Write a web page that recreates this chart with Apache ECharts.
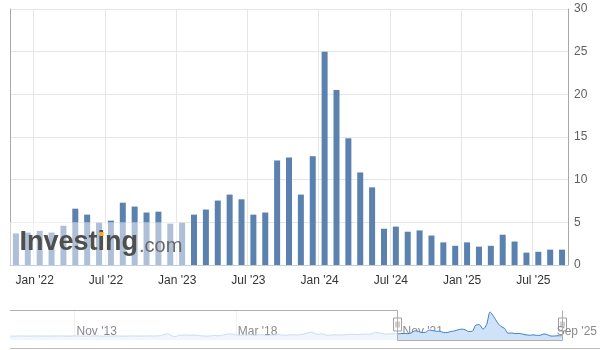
<!DOCTYPE html>
<html><head><meta charset="utf-8">
<script src="https://cdn.jsdelivr.net/npm/echarts@6/dist/echarts.min.js"></script>
<style>html,body{margin:0;padding:0;background:#fff}#c{width:600px;height:350px}</style>
</head><body><div id="c"></div>
<script>
const months = ["Nov '21","Dec '21","Jan '22","Feb '22","Mar '22","Apr '22","May '22","Jun '22","Jul '22","Aug '22","Sep '22","Oct '22","Nov '22","Dec '22",
  "Jan '23","Feb '23","Mar '23","Apr '23","May '23","Jun '23","Jul '23","Aug '23","Sep '23","Oct '23","Nov '23","Dec '23",
  "Jan '24","Feb '24","Mar '24","Apr '24","May '24","Jun '24","Jul '24","Aug '24","Sep '24","Oct '24","Nov '24","Dec '24",
  "Jan '25","Feb '25","Mar '25","Apr '25","May '25","Jun '25","Jul '25","Aug '25","Sep '25"];
const values = [3.7,3.8,4.0,3.8,4.6,6.6,5.9,4.95,5.2,7.3,6.85,6.15,6.25,4.85,
  4.95,5.9,6.5,7.55,8.25,7.7,5.9,6.15,12.25,12.6,8.25,12.75,
  25.0,20.5,14.85,10.85,9.1,4.25,4.5,3.9,4.05,3.45,2.65,2.25,
  2.65,2.15,2.25,3.55,2.75,1.45,1.55,1.8,1.8];
const yTicks = [0,5,10,15,20,25,30];
// navigator: earlier history (estimated from the faint line)
const navHistory = [1.5,1.4,1.5,1.6,1.5,1.4,1.5,1.5,1.6,1.5,1.4,1.5,1.5,1.6,1.5,1.5,1.4,1.5,1.6,1.5,
  1.5,1.4,1.5,1.5,1.6,1.5,1.4,1.5,1.5,1.6,1.5,1.5,1.4,1.5,1.6,1.5,1.5,1.4,1.5,1.6,1.5,1.6,
  1.8,3.0,3.8,2.0,0.8,2.0,2.3,2.5,2.2,2.4,2.3,
  1.8,1.5,1.4,1.6,2.0,1.7,2.2,2.8,3.6,3.5,2.6,
  2.4,2.6,2.4,2.7,2.3,2.5,2.8,2.4,2.2,2.5,2.6,2.9,2.4,2.3,2.6,2.7,2.5,3.0,
  3.4,4.5,5.3,4.2,3.0,3.8,2.6,2.2,2.5,2.7,2.4,2.6,2.9,3.2,3.0,2.8,3.1,3.3,3.4,3.6,5.0,4.6,3.8,3.4,3.6,3.9];
const navTickIndex = [18, 63, 109, 152];
const navTickLabels = ["Nov '13","Mar '18","Nov '21","Sep '25"];

const FONT = "'Liberation Sans', Arial, sans-serif";
const H = navHistory.length;
const navCats = Array.from({length: H + values.length}, (_, i) => String(i));
const navFaint = navHistory.concat([values[0]]).concat(new Array(values.length - 1).fill(null));
const navSel = new Array(H).fill(null).concat(values);
const isHalf = v => v.startsWith('Jan') || v.startsWith('Jul');

const chart = echarts.init(document.getElementById('c'), null, {renderer: 'canvas'});
chart.setOption({
  animation: false,
  backgroundColor: '#ffffff',
  textStyle: {fontFamily: FONT},
  grid: [
    {left: 10, right: 32, top: 9, height: 256},
    {left: 10, right: 33, top: 310, height: 30}
  ],
  xAxis: [{
    type: 'category', gridIndex: 0, data: months, boundaryGap: true,
    axisLine: {show: true, lineStyle: {color: '#c0d0e0'}},
    axisTick: {show: false},
    axisLabel: {interval: (i, v) => isHalf(v), color: '#333333', fontSize: 12, fontFamily: FONT, margin: 10, padding: [0, 10, 0, 0]},
    splitLine: {show: true, interval: (i, v) => isHalf(v), lineStyle: {color: '#e6e6e6'}}
  }, {
    type: 'category', gridIndex: 1, data: navCats, boundaryGap: false,
    axisLine: {show: false}, axisTick: {show: false},
    axisLabel: {interval: (i) => navTickIndex.includes(i), formatter: (v, i) => navTickLabels[navTickIndex.indexOf(Number(v))] || '',
      color: '#8a8a8a', fontSize: 12, fontFamily: FONT, margin: -14, align: 'left', padding: [0, 0, 0, 2]},
    splitLine: {show: true, interval: (i) => i === navTickIndex[0] || i === navTickIndex[1], lineStyle: {color: '#f0f0f0'}}
  }],
  yAxis: [{
    type: 'value', gridIndex: 0, position: 'right', min: yTicks[0], max: yTicks[yTicks.length - 1], interval: 5,
    axisLine: {show: true, lineStyle: {color: '#a8a8a8'}},
    axisTick: {show: false},
    axisLabel: {color: '#606060', fontSize: 12, fontFamily: FONT, margin: 6},
    splitLine: {show: true, lineStyle: {color: '#e6e6e6'}}
  }, {
    type: 'value', gridIndex: 0, position: 'left', min: 0, max: 30,
    axisLine: {show: true, lineStyle: {color: '#a8a8a8'}},
    axisTick: {show: false}, axisLabel: {show: false}, splitLine: {show: false}
  }, {
    type: 'value', gridIndex: 1, min: -2.4, max: 27, show: false
  }],
  series: [{
    type: 'bar', xAxisIndex: 0, yAxisIndex: 0, data: values, barWidth: 6,
    itemStyle: {color: '#5b81af'}
  }, {
    type: 'line', xAxisIndex: 1, yAxisIndex: 2, data: navFaint, smooth: 0.3, symbol: 'none',
    lineStyle: {color: '#cddcee', width: 1}, areaStyle: {color: '#f1f6fc', opacity: 1, origin: 'start'}
  }, {
    type: 'line', xAxisIndex: 1, yAxisIndex: 2, data: navSel, smooth: 0.3, symbol: 'none',
    lineStyle: {color: '#3f7fc4', width: 1}, areaStyle: {color: '#cfe2f7', opacity: 1, origin: 'start'}
  }]
});

// decorations positioned from the chart's own scales
const y5 = chart.convertToPixel({yAxisIndex: 0}, 5);
const y0 = chart.convertToPixel({yAxisIndex: 0}, 0);
const xL = chart.convertToPixel({xAxisIndex: 0}, 0) - 6;
const xWm = chart.convertToPixel({xAxisIndex: 0}, 14) + 5;
const selL = Math.round(chart.convertToPixel({xAxisIndex: 1}, H)) + 0.5;
const selR = Math.round(chart.convertToPixel({xAxisIndex: 1}, H + values.length - 1)) + 0.5;
const navTop = 310.5, navBot = 340.5;
function handle(x) {
  return {type: 'group', x: x, y: 318, z: 120, children: [
    {type: 'rect', shape: {x: -4, y: 0, width: 8, height: 13}, style: {fill: '#ffffff', stroke: '#a0a0a0', lineWidth: 1}},
    {type: 'line', shape: {x1: -1.5, y1: 3.5, x2: -1.5, y2: 9.5}, style: {stroke: '#a0a0a0', lineWidth: 1}},
    {type: 'line', shape: {x1: 1.5, y1: 3.5, x2: 1.5, y2: 9.5}, style: {stroke: '#a0a0a0', lineWidth: 1}}
  ]};
}
chart.setOption({
  graphic: [
    {type: 'rect', z: 100, shape: {x: xL, y: y5, width: xWm - xL, height: y0 - y5}, style: {fill: 'rgba(255,255,255,0.5)'}},
    {type: 'text', z: 101, x: 19.5, y: 243, style: {text: 'Investing', font: "bold 27px " + FONT, fill: '#4f4f4f', verticalAlign: 'middle', align: 'left'}},
    {type: 'text', z: 101, x: 139, y: 246, style: {text: '.com', font: "20px " + FONT, fill: '#6a6a6a', verticalAlign: 'middle', align: 'left'}},
    {type: 'rect', z: 102, shape: {x: 99.5, y: 232, width: 4, height: 4}, style: {fill: '#f6a821'}},
    {type: 'polyline', z: 110, shape: {points: [[10, navTop], [selL, navTop], [selL, navBot], [selR, navBot], [selR, navTop]]}, style: {stroke: '#b0b0b0', lineWidth: 1, fill: null}},
    handle(selL), handle(selR),
    {type: 'line', z: 110, shape: {x1: 10, y1: 348.5, x2: 600, y2: 348.5}, style: {stroke: '#bdbdbd', lineWidth: 1}}
  ]
});
</script>
</body></html>
